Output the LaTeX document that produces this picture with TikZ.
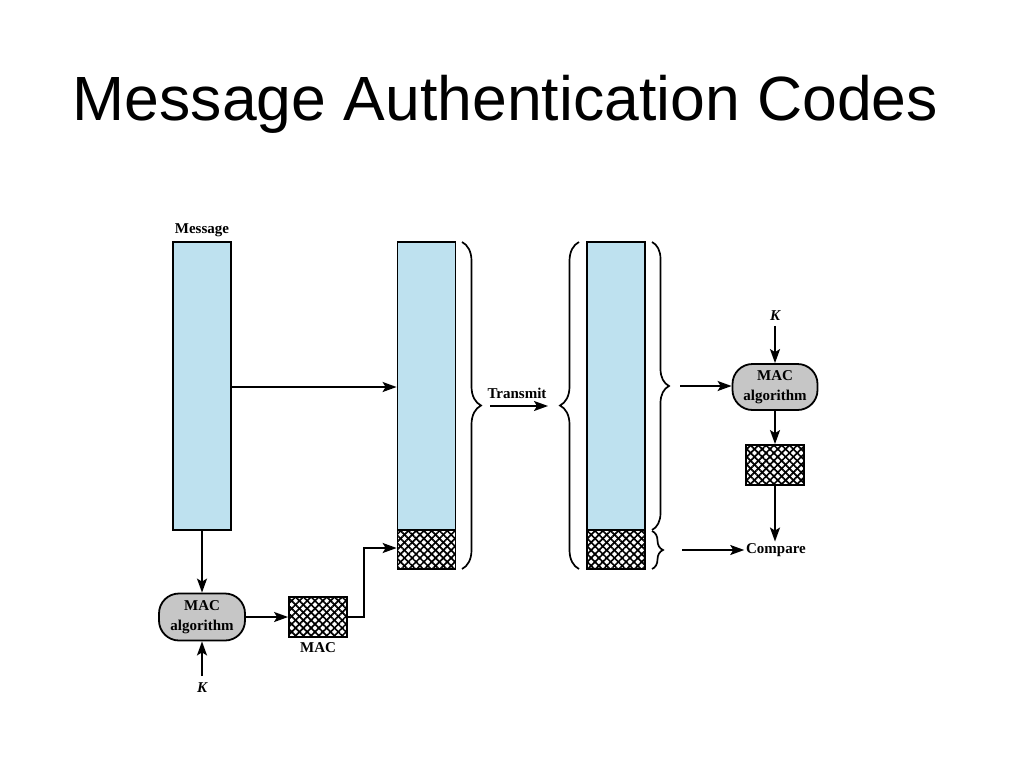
\documentclass[tikz,border=0pt]{standalone}
\usepackage{fontspec}
\setmainfont{Liberation Serif}
\newfontfamily\titlefont{Liberation Sans}
\usetikzlibrary{arrows.meta,decorations.pathreplacing,patterns.meta,positioning}
\definecolor{msgblue}{HTML}{BEE1EF}
\definecolor{algray}{HTML}{C6C6C6}
\begin{document}
\begin{tikzpicture}[x=1pt,y=-1pt,
  line width=1.8pt,
  arr/.style={-{Stealth[length=14pt,width=10pt,inset=3pt]}},
  msgbox/.style={draw,fill=msgblue,minimum width=58pt,inner sep=0pt},
  hatchbox/.style={draw,minimum width=58pt,minimum height=39pt,inner sep=0pt,
     pattern={Lines[angle=45,distance=5.5pt,line width=1.7pt]},
     postaction={pattern={Lines[angle=-45,distance=5.5pt,line width=1.7pt]}}},
  algbox/.style={draw,fill=algray,rounded corners=20pt,minimum width=86pt,minimum height=47pt,
     inner sep=0pt,align=center,font=\fontsize{15}{20}\selectfont\bfseries},
  lbl/.style={font=\fontsize{15}{16}\selectfont\bfseries,inner sep=1pt},
  kbl/.style={font=\fontsize{15}{16}\selectfont\bfseries\itshape,inner sep=1pt},
  brc/.style={decorate,decoration={brace,amplitude=19pt},line width=1.7pt}]
\useasboundingbox (0,0) rectangle (1024,768);
\node[anchor=base west,inner sep=0pt,font=\fontsize{62.5}{70}\selectfont\titlefont] (title) at (72,120) {Message Authentication Codes};

% sender side
\node[lbl] (msglbl) at (202,230) {Message};
\node[msgbox,minimum height=288pt] (m1) at (202,386) {};
\node[msgbox,minimum height=288pt] (m2) at (426.5,386) {};
\node[hatchbox] (h2) at (426.5,549.5) {};
\node[algbox] (alg1) at (202,617) {MAC\\algorithm};
\node[kbl] (k1) at (202,688) {K};
\node[hatchbox,minimum height=40pt] (mac1) at (318,617) {};
\node[lbl,below=3pt of mac1] (maclbl) {MAC};
\coordinate (c1) at (364,617);
\coordinate (c2) at (364,548);

\draw[arr] (m1.east |- 0,387) -- (m2.west |- 0,387);
\draw[arr] (m1.south) -- (alg1.north);
\draw[arr] (k1.north) ++(0,-5) -- (alg1.south);
\draw[arr] (alg1.east) -- (mac1.west);
\draw[arr] (mac1.east) -- (c1) -- (c2) -- (h2.west |- c2);

% braces and transmit
\coordinate (b1t) at (462,242);
\coordinate (b1b) at (462,569);
\draw[brc] (b1t) -- (b1b);
\node[lbl] (tx) at (517,393) {Transmit};
\coordinate (txs) at (490,406);
\coordinate (txe) at (548,406);
\draw[arr] (txs) -- (txe);
\coordinate (b2t) at (579,242);
\coordinate (b2b) at (579,569);
\draw[brc] (b2b) -- (b2t);

% receiver side
\node[msgbox,minimum height=288pt] (m3) at (616,386) {};
\node[hatchbox] (h3) at (616,549.5) {};
\coordinate (b3t) at (652,242);
\coordinate (b3b) at (652,530);
\draw[brc,decoration={brace,amplitude=17pt}] (b3t) -- (b3b);
\coordinate (b4t) at (652,531);
\coordinate (b4b) at (652,569);
\draw[brc,decoration={brace,amplitude=11pt}] (b4t) -- (b4b);

\node[algbox,minimum width=85pt,minimum height=46pt] (alg2) at (775,387) {MAC\\algorithm};
\node[kbl] (k2) at (775,316) {K};
\node[hatchbox,minimum height=40pt] (mac2) at (775,465) {};
\node[lbl] (cmp) at (776,550) {Compare};
\coordinate (a1s) at (680,386);
\coordinate (a2s) at (682,550);

\draw[arr] (k2.south) ++(0,3) -- (alg2.north);
\draw[arr] (a1s) -- (alg2.west |- a1s);
\draw[arr] (alg2.south) -- (mac2.north);
\draw[arr] (mac2.south) -- (mac2.south |- cmp.north);
\draw[arr] (a2s) -- (cmp.west);
\end{tikzpicture}
\end{document}
